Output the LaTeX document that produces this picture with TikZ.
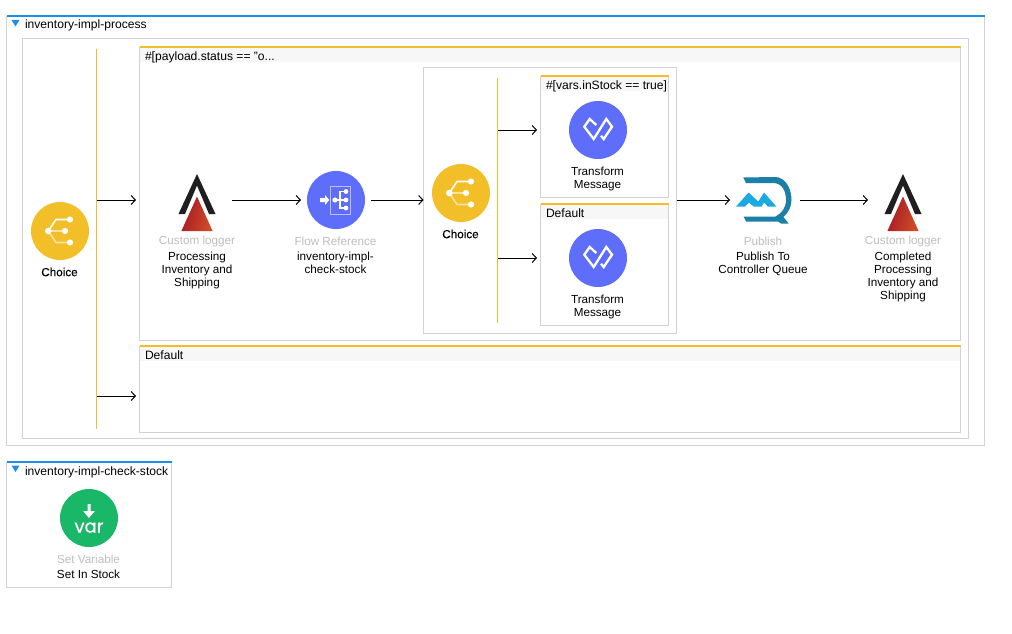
\documentclass[tikz,border=0pt]{standalone}
\usepackage{fontspec}
\setmainfont{Liberation Sans}
\newfontfamily\medfont[FakeBold=0.3]{Liberation Sans}
\newfontfamily\varfont[FakeBold=0.5]{Poppins}
\usetikzlibrary{arrows.meta}
\definecolor{cyellow}{HTML}{F3BF28}
\definecolor{cpale}{HTML}{F9E3A3}
\definecolor{cblue}{HTML}{5F6DFB}
\definecolor{cpaleb}{HTML}{B9C0FD}
\definecolor{cgreen}{HTML}{1BB768}
\definecolor{cline}{HTML}{1B8FEA}
\definecolor{cframe}{HTML}{D2D2D2}
\definecolor{chead}{HTML}{F7F7F7}
\definecolor{cmuted}{HTML}{BEBEBE}
\definecolor{cmq}{HTML}{1B7FA7}
\definecolor{cmqb}{HTML}{1CA9E1}
\definecolor{credA}{HTML}{A31A24}
\definecolor{credB}{HTML}{D24C28}
\tikzset{
  x=1pt,y=-1pt,
  every node/.style={inner sep=0pt,outer sep=0pt},
  txt/.style={font=\fontsize{11.7}{13}\selectfont,align=center,text=black},
  muted/.style={font=\fontsize{11.7}{13}\selectfont,text=cmuted},
  headtxt/.style={font=\fontsize{12.1}{13}\selectfont,anchor=base west,text=black},
  choicetxt/.style={font=\fontsize{11.7}{13}\medfont,text=black},
  frame/.style={draw=cframe,line width=.9pt,anchor=north west,rectangle},
  disc/.style={circle,minimum size=58pt,outer sep=6pt,draw=none},
  iconbox/.style={rectangle,minimum width=70pt,minimum height=50pt},
  flow/.style={draw=black,line width=1pt,-{Straight Barb[length=4.2pt,width=9pt,line width=1pt]}},
  ybar/.style={draw=cyellow,line width=1.6pt},
  ytop/.style={draw=cyellow,line width=2.2pt},
  btop/.style={draw=cline,line width=2pt},
  wl/.style={draw=white,line width=2.3pt},
}
% \frameNode{name}{x}{y}{w}{h}
\newcommand{\frameNode}[5]{\node[frame,minimum width=#4pt,minimum height=#5pt] (#1) at (#2,#3) {};}
% \choiceIcon{name}{x}{y}
\newcommand{\choiceIcon}[3]{%
  \node[disc,fill=cyellow] (#1) at (#2,#3) {};
  \begin{scope}[shift={(#2,#3)}]
    \draw[cpale,line width=1.6pt] (-11.7,0) -- (5,0) (-11.7,0) -- (-4,11.5) -- (10,11.5);
    \draw[white,line width=1.6pt] (-11.7,0) -- (-4,-11.5) -- (10,-11.5);
    \fill[white] (-11.7,0) circle (3.3) (5,0) circle (3.1) (10,-11.5) circle (3.1) (10,11.5) circle (3.1);
  \end{scope}}
% \loggerIcon{name}{x}{y}
\newcommand{\loggerIcon}[3]{%
  \node[iconbox] (#1) at (#2,#3) {};
  \begin{scope}[shift={(#2,#3)}]
    \fill[black!88] (0,-26) -- (18.5,14) -- (12,14) -- (0,-14.5) -- (-12,14) -- (-18.5,14) -- cycle;
    \shade[left color=credA,right color=credB,shading angle=75] (0,-3.5) -- (15.6,31) -- (-15.6,31) -- cycle;
  \end{scope}}
% \transformIcon{name}{x}{y}
\newcommand{\transformIcon}[3]{%
  \node[disc,fill=cblue] (#1) at (#2,#3) {};
  \begin{scope}[shift={(#2,#3)}]
    \draw[wl,line join=miter] (-1.7,-5) -- (-8.3,-11) -- (-13.7,-3.3) -- (-4.3,9) -- (8.3,-11) -- (14,-3.3) -- (5.7,9) -- (3,5.7);
  \end{scope}}
\begin{document}
\begin{tikzpicture}
\useasboundingbox (0,0) rectangle (1012,634);
\fill[white] (0,0) rectangle (1012,634);

% --- outer flow
\frameNode{flowA}{6.5}{16.5}{978}{429}
\draw[btop] (flowA.north west) -- (flowA.north east);
\fill[cline] (11.5,20) -- (19.5,20) -- (15.5,26.5) -- cycle;
\node[headtxt] (flowAtitle) at (25,29) {inventory-impl-process};
\frameNode{scopeA}{22.5}{38.5}{946}{400}

% --- branch boxes
\fill[chead] (139,47) rectangle (961,62);
\frameNode{branchA}{139.5}{47}{821}{293}
\draw[ytop] (branchA.north west) -- (branchA.north east);
\node[headtxt] (branchAtitle) at (145,60) {\#[payload.status == "o...};
\fill[chead] (139,346) rectangle (961,361);
\frameNode{branchB}{139.5}{346}{821}{86}
\draw[ytop] (branchB.north west) -- (branchB.north east);
\node[headtxt] (branchBtitle) at (145,359) {Default};

% --- first choice
\choiceIcon{choiceA}{60}{231}
\node[choicetxt] (choiceAtxt) at (59.5,272) {Choice};
\coordinate (barAtop) at (96.5,49);
\coordinate (barAbot) at (96.5,429);
\draw[ybar] (barAtop) -- (barAbot);
\coordinate (barAup) at (97,200);
\coordinate (barAlow) at (97,396);
\coordinate (inA) at (136,200);
\coordinate (inB) at (136,396);
\draw[flow] (barAup) -- (inA);
\draw[flow] (barAlow) -- (inB);

% --- logger 1
\loggerIcon{loggerA}{197}{200}
\node[muted] (loggerAtype) at (197,241) {Custom logger};
\node[txt,anchor=north] (loggerAtxt) at (197,252) {Processing\\Inventory and\\Shipping};

% --- flow reference
\node[disc,fill=cblue] (flowref) at (336,200) {};
\begin{scope}[shift={(336,200)}]
  \draw[cpaleb,line width=.9pt] (-5.8,-14) rectangle (14.2,14);
  \fill[white] (-16,-2) -- (-11,-2) -- (-11,-5) -- (-6.7,0) -- (-11,5) -- (-11,2) -- (-16,2) -- cycle;
  \draw[white,line width=1.2pt] (-1,0) -- (10,0) (10,-8.5) -- (4,-8.5) -- (4,8) -- (10,8);
  \fill[white] (-1,0) circle (2.6) (10,-8.5) circle (2.4) (10,0) circle (2.4) (10,8) circle (2.4);
\end{scope}
\node[muted] (flowreftype) at (335.5,241) {Flow Reference};
\node[txt,anchor=north] (flowreftxt) at (335.5,252) {inventory-impl-\\check-stock};

% --- inner choice scope
\frameNode{scopeB}{423.5}{67.5}{253}{265.5}
\choiceIcon{choiceB}{461}{193}
\node[choicetxt] (choiceBtxt) at (460.5,234) {Choice};
\coordinate (barBtop) at (497.5,78);
\coordinate (barBbot) at (497.5,323);
\draw[ybar] (barBtop) -- (barBbot);
\coordinate (barBup) at (498,130);
\coordinate (barBlow) at (498,258);
\coordinate (inC) at (537,130);
\coordinate (inD) at (537,258);
\draw[flow] (barBup) -- (inC);
\draw[flow] (barBlow) -- (inD);

% --- inner branches
\fill[chead] (540,76) rectangle (669,91);
\frameNode{subA}{540.5}{76}{128}{121.5}
\draw[ytop] (subA.north west) -- (subA.north east);
\node[headtxt] (subAtitle) at (546,89) {\#[vars.inStock == true]};
\transformIcon{transA}{598}{130}
\node[txt,anchor=north] (transAtxt) at (597.5,167) {Transform\\Message};

\fill[chead] (540,204) rectangle (669,219);
\frameNode{subB}{540.5}{204}{128}{121}
\draw[ytop] (subB.north west) -- (subB.north east);
\node[headtxt] (subBtitle) at (546,217) {Default};
\transformIcon{transB}{598}{258}
\node[txt,anchor=north] (transBtxt) at (597.5,295) {Transform\\Message};

% --- publish
\node[iconbox] (mq) at (765,200) {};
\fill[cmq] (743.3,177.5) -- (775,177) .. controls (785,177) and (791.5,188) .. (791.5,200) .. controls (791.5,207) and (788,213) .. (783.5,217) -- (788.5,223.5) -- (781,223.5) -- (778,221.5) -- (746,221.5) -- (743.5,216.5) -- (775.5,216.5) .. controls (781.5,213.5) and (786,208) .. (786,200) .. controls (786,190) and (781.5,183) .. (773,183) -- (746,183) -- cycle;
\fill[cmqb] (736,206.7) -- (748.5,192.5) -- (758.3,201.5) -- (764,192.5) -- (776.5,206.7) -- (768,206.7) -- (764,202.5) -- (761.5,206.7) -- (754,206.7) -- (749,202.5) -- (745,206.7) -- cycle;
\node[muted] (mqtype) at (763,241) {Publish};
\node[txt,anchor=north] (mqtxt) at (763,252) {Publish To\\Controller Queue};

% --- logger 2
\loggerIcon{loggerB}{903}{200}
\node[muted] (loggerBtype) at (903,241) {Custom logger};
\node[txt,anchor=north] (loggerBtxt) at (903,252) {Completed\\Processing\\Inventory and\\Shipping};

% --- connectors
\draw[flow] (loggerA.east) -- (flowref.west);
\draw[flow] (flowref.east) -- (scopeB.west |- flowref);
\draw[flow] (scopeB.east |- mq) -- (mq.west);
\draw[flow] (mq.east) -- (loggerB.west);

% --- second flow
\frameNode{flowB}{6.5}{462}{165}{125.5}
\draw[btop] (flowB.north west) -- (flowB.north east);
\fill[cline] (11.5,465.5) -- (19.5,465.5) -- (15.5,472) -- cycle;
\node[headtxt] (flowBtitle) at (25,475) {inventory-impl-check-stock};
\node[disc,fill=cgreen] (setvar) at (89,518) {};
\fill[white] (87.5,504) -- (90.5,504) -- (90.5,511) -- (94.8,511) -- (89,518) -- (83.2,511) -- (87.5,511) -- cycle;
\node[text=white,font=\fontsize{18}{18}\varfont,anchor=base] (setvarglyph) at (89,532.5) {var};
\node[muted] (setvartype) at (88.5,559) {Set Variable};
\node[txt] (setvartxt) at (88.5,574) {Set In Stock};
\end{tikzpicture}
\end{document}
